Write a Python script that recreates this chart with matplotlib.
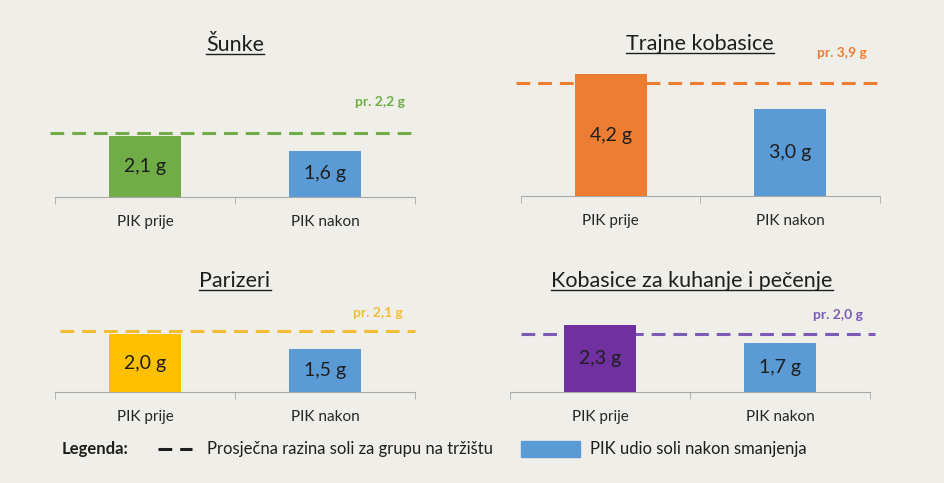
"""Salt content of PIK meat products before and after reduction"""

import matplotlib.pyplot as plt
from matplotlib.lines import Line2D
from matplotlib.patches import Rectangle

plt.rcParams["font.family"] = ["Lato", "DejaVu Sans"]

titles = ["Šunke", "Trajne kobasice", "Parizeri", "Kobasice za kuhanje i pečenje"]
categories = ["PIK prije", "PIK nakon"]
before = [2.1, 4.2, 2.0, 2.3]
after = [1.6, 3.0, 1.5, 1.7]
average = [2.2, 3.9, 2.1, 2.0]
value_labels_before = ["2,1 g", "4,2 g", "2,0 g", "2,3 g"]
value_labels_after = ["1,6 g", "3,0 g", "1,5 g", "1,7 g"]
average_labels = ["pr. 2,2 g", "pr. 3,9 g", "pr. 2,1 g", "pr. 2,0 g"]
bar_colors = ["#70ad47", "#ed7d31", "#ffc000", "#7030a0"]
line_colors = ["#70ad47", "#ed7d31", "#f2bd33", "#7b5bb5"]
after_color = "#5b9bd5"

W, H = 945, 483
BG = "#efeee9"
PX_PER_UNIT = 29
YMAX = 4.6

# layout in pixels: axis left, axis right, baseline, title (x, y), avg label (right x, y), dash extent
layout = [
    dict(left=55, right=415, base=197, title=(235, 45), lab=(405, 102), dash=(-0.53, 1.49)),
    dict(left=521, right=880, base=196, title=(700, 44), lab=(867, 53), dash=(-0.53, 1.49)),
    dict(left=55, right=415, base=392, title=(235, 281), lab=(403, 313), dash=(-0.47, 1.5)),
    dict(left=510, right=870, base=392, title=(692, 281), lab=(863, 315), dash=(-0.44, 1.53)),
]

fig = plt.figure(figsize=(W / 100, H / 100), dpi=100, facecolor=BG)

title_texts = []
for i, lay in enumerate(layout):
    height = YMAX * PX_PER_UNIT
    ax = fig.add_axes([lay["left"] / W, 1 - lay["base"] / H,
                       (lay["right"] - lay["left"]) / W, height / H])
    ax.set_facecolor("none")
    ax.set_xlim(-0.5, 1.5)
    ax.set_ylim(0, YMAX)

    bars = ax.bar([0, 1], [before[i], after[i]], width=0.4,
                  color=[bar_colors[i], after_color], zorder=3)
    for rect, lbl in zip(bars, [value_labels_before[i], value_labels_after[i]]):
        ax.text(rect.get_x() + rect.get_width() / 2, rect.get_height() / 2, lbl,
                ha="center", va="center", fontsize=14, color="#1e1e1e", zorder=4)

    # average line sits behind the bars
    ax.plot(lay["dash"], [average[i], average[i]], color=line_colors[i], lw=2.2,
            dashes=(4.5, 2.6), clip_on=False, zorder=2)

    for side in ["top", "right", "left"]:
        ax.spines[side].set_visible(False)
    ax.spines["bottom"].set_color("#a8a8a8")
    ax.set_yticks([])
    ax.set_xticks([0, 1])
    ax.set_xticklabels(categories, fontsize=11, color="#262626")
    ax.tick_params(axis="x", which="major", length=0, pad=13)
    ax.set_xticks([-0.5, 0.5, 1.5], minor=True)
    ax.tick_params(axis="x", which="minor", length=5, color="#a8a8a8", direction="out")

    tx, ty = lay["title"]
    t = fig.text(tx / W, 1 - ty / H, titles[i], ha="center", va="center",
                 fontsize=15.5, color="#1e1e1e")
    title_texts.append(t)

    lx, ly = lay["lab"]
    fig.text(lx / W, 1 - ly / H, average_labels[i], ha="right", va="center",
             fontsize=10, fontweight="bold", color=line_colors[i])

# underline titles
fig.canvas.draw()
for t in title_texts:
    bb = t.get_window_extent()
    y = (bb.y0 + 1) / H
    fig.add_artist(Line2D([bb.x0 / W, bb.x1 / W], [y, y], color="#1e1e1e", lw=1))

# legend
ly = 1 - 449 / H
fig.text(62 / W, ly, "Legenda:", ha="left", va="center", fontsize=12,
         fontweight="bold", color="#1e1e1e")
fig.add_artist(Line2D([158 / W, 192 / W], [ly, ly], color="#1e1e1e", lw=2.2,
                      dashes=(4.5, 2.6)))
fig.text(207 / W, ly, "Prosječna razina soli za grupu na tržištu", ha="left",
         va="center", fontsize=12, color="#1e1e1e")
fig.add_artist(Rectangle((521 / W, 1 - 457 / H), 59 / W, 16 / H,
                         transform=fig.transFigure, color=after_color))
fig.text(590 / W, ly, "PIK udio soli nakon smanjenja", ha="left", va="center",
         fontsize=12, color="#1e1e1e")

fig.savefig("out.png", dpi=100, facecolor=BG)
